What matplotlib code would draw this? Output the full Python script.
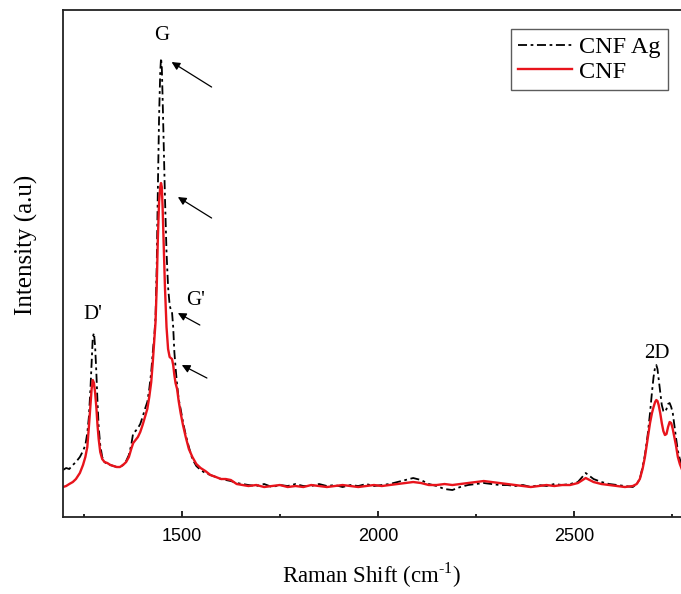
import matplotlib
matplotlib.use("Agg")
import matplotlib.pyplot as plt
from matplotlib.ticker import MultipleLocator

# Raman shift (cm^-1) shared by both spectra
shift = [1197, 1205, 1213, 1222, 1230, 1240, 1248, 1254, 1259, 1263, 1267, 1270, 1273, 1276, 1279,
         1282, 1285, 1288, 1292, 1297, 1303,
         1310, 1318, 1326, 1334, 1342, 1350, 1358, 1365, 1371, 1376, 1382, 1388, 1394, 1400, 1406,
         1412, 1417, 1422, 1426, 1430,
         1433, 1436, 1439, 1442, 1445, 1447, 1449, 1451, 1454, 1457, 1461, 1465, 1469, 1472, 1475,
         1478, 1481, 1484, 1488, 1492, 1497, 1503,
         1510, 1518, 1527, 1537, 1548, 1560, 1573, 1587, 1600, 1612, 1625, 1640, 1655,
         1670, 1690, 1710, 1730, 1750, 1770, 1790, 1810, 1830, 1850, 1870, 1890, 1910, 1930, 1950,
         1970, 1990, 2010, 2030, 2050, 2070, 2090, 2110, 2130, 2150, 2170, 2190, 2210, 2230, 2250,
         2270, 2290, 2310, 2330, 2350, 2370, 2390, 2410, 2430, 2450, 2470, 2490, 2510, 2530, 2550,
         2570, 2590, 2610, 2630, 2650,
         2660, 2668, 2675, 2681, 2688, 2694, 2699, 2703, 2707, 2710, 2713, 2716, 2720, 2724, 2728,
         2732, 2736, 2740, 2744, 2748, 2752, 2756, 2760, 2765, 2770, 2775]

cnf_ag = [47, 49, 48, 52, 55, 60, 66, 72, 84, 100, 128, 155, 180, 184, 170,
          145, 115, 90, 72, 60, 55,
          53, 52, 51, 50, 50, 52, 56, 62, 72, 84, 86, 89, 93, 100, 108,
          115, 128, 145, 165, 182,
          200, 250, 330, 400, 445, 459, 450, 420, 370, 320, 265, 230, 212, 207, 205,
          190, 165, 150, 132, 118, 108, 95,
          82, 70, 58, 51, 47, 44, 42, 40, 38, 37, 36, 34, 33,
          32, 31, 33, 30, 32, 31, 33, 31, 31, 33, 31, 32, 30, 32, 31,
          33, 31, 32, 33, 35, 37, 39, 37, 33, 31, 28, 27, 30, 32, 33,
          34, 33, 32, 32, 31, 32, 30, 32, 31, 33, 32, 33, 35, 44, 38,
          35, 33, 32, 31, 30,
          33, 38, 50, 62, 82, 104, 125, 140, 150, 152, 148, 138, 125, 112, 106,
          105, 108, 113, 114, 110, 104, 92, 80, 66, 58, 52]

cnf = [30, 31, 33, 35, 38, 44, 52, 60, 70, 90, 112, 128, 137, 134, 124,
       110, 92, 78, 65, 58, 55,
       54, 52, 51, 50, 50, 52, 55, 60, 68, 74, 77, 80, 85, 92, 100,
       108, 120, 135, 155, 178,
       195, 230, 280, 315, 330, 334, 330, 310, 270, 230, 190, 168, 160, 159, 158,
       152, 142, 134, 128, 116, 104, 92,
       80, 68, 60, 53, 49, 46, 42, 40, 38, 38, 37, 33, 32,
       31, 32, 30, 31, 32, 30, 31, 30, 32, 31, 30, 31, 32, 31, 30,
       31, 32, 31, 32, 33, 34, 35, 34, 32, 32, 33, 32, 33, 34, 35,
       36, 35, 34, 33, 32, 31, 30, 31, 32, 31, 32, 32, 34, 39, 35,
       33, 32, 31, 30, 31,
       33, 38, 48, 60, 78, 94, 104, 110, 115, 117, 116, 112, 104, 94, 86,
       82, 83, 90, 95, 94, 88, 80, 72, 60, 53, 48]

serif = "Liberation Serif"
sans = "Liberation Sans"
plt.rcParams["mathtext.fontset"] = "custom"
plt.rcParams["mathtext.rm"] = serif

fig = plt.figure(figsize=(6.81, 5.94), dpi=100)
ax = fig.add_axes([0.0925, 0.1296, 0.9075, 0.8535])

ax.plot(shift, cnf_ag, color="black", lw=1.3, ls=(0, (5, 2, 1.5, 2)), label="CNF Ag")
ax.plot(shift, cnf, color="#e8141c", lw=1.7, label="CNF")

ax.set_xlim(1197, 2773)
ax.set_ylim(0, 507)
ax.xaxis.set_major_locator(MultipleLocator(500))
ax.xaxis.set_minor_locator(MultipleLocator(250))
ax.tick_params(axis="x", which="major", direction="in", length=4, width=1.2, labelsize=13, pad=8)
ax.tick_params(axis="x", which="minor", direction="in", length=2.5, width=1.2)
ax.set_yticks([])
for lab in ax.get_xticklabels():
    lab.set_fontfamily(sans)
ax.spines["right"].set_visible(False)
for s in ["left", "top", "bottom"]:
    ax.spines[s].set_linewidth(1.3)
    ax.spines[s].set_color("#222222")

ax.set_xlabel("Raman Shift (cm$^{\\text{-1}}$)", family=serif, fontsize=16.5, labelpad=11)
ax.set_ylabel("Intensity (a.u)", family=serif, fontsize=18)
ax.yaxis.set_label_coords(-0.041, 0.536)

# peak labels
ax.text(1449, 482, "G", family=serif, fontsize=15, ha="center", va="center")
ax.text(1273, 203, "D'", family=serif, fontsize=15, ha="center", va="center")
ax.text(1535, 217, "G'", family=serif, fontsize=15, ha="center", va="center")
ax.text(2712, 164, "2D", family=serif, fontsize=15, ha="center", va="center")

arrows = [((1576, 430), (1474, 455)), ((1576, 299), (1490, 320)),
          ((1546, 192), (1490, 204)), ((1564, 139), (1500, 152))]
for tail, head in arrows:
    ax.annotate("", xy=head, xytext=tail,
                arrowprops=dict(arrowstyle="-|>", color="black", lw=0.9, mutation_scale=12,
                                shrinkA=0, shrinkB=0))

leg = ax.legend(loc="upper right", bbox_to_anchor=(0.979, 0.9625), prop={"family": serif, "size": 17.5},
                frameon=True, fancybox=False, handlelength=2.2, handletextpad=0.3,
                borderpad=0.3, labelspacing=0.1, borderaxespad=0)
leg.get_frame().set_edgecolor("#333333")
leg.get_frame().set_linewidth(1.0)

fig.savefig("out.png", dpi=100)
